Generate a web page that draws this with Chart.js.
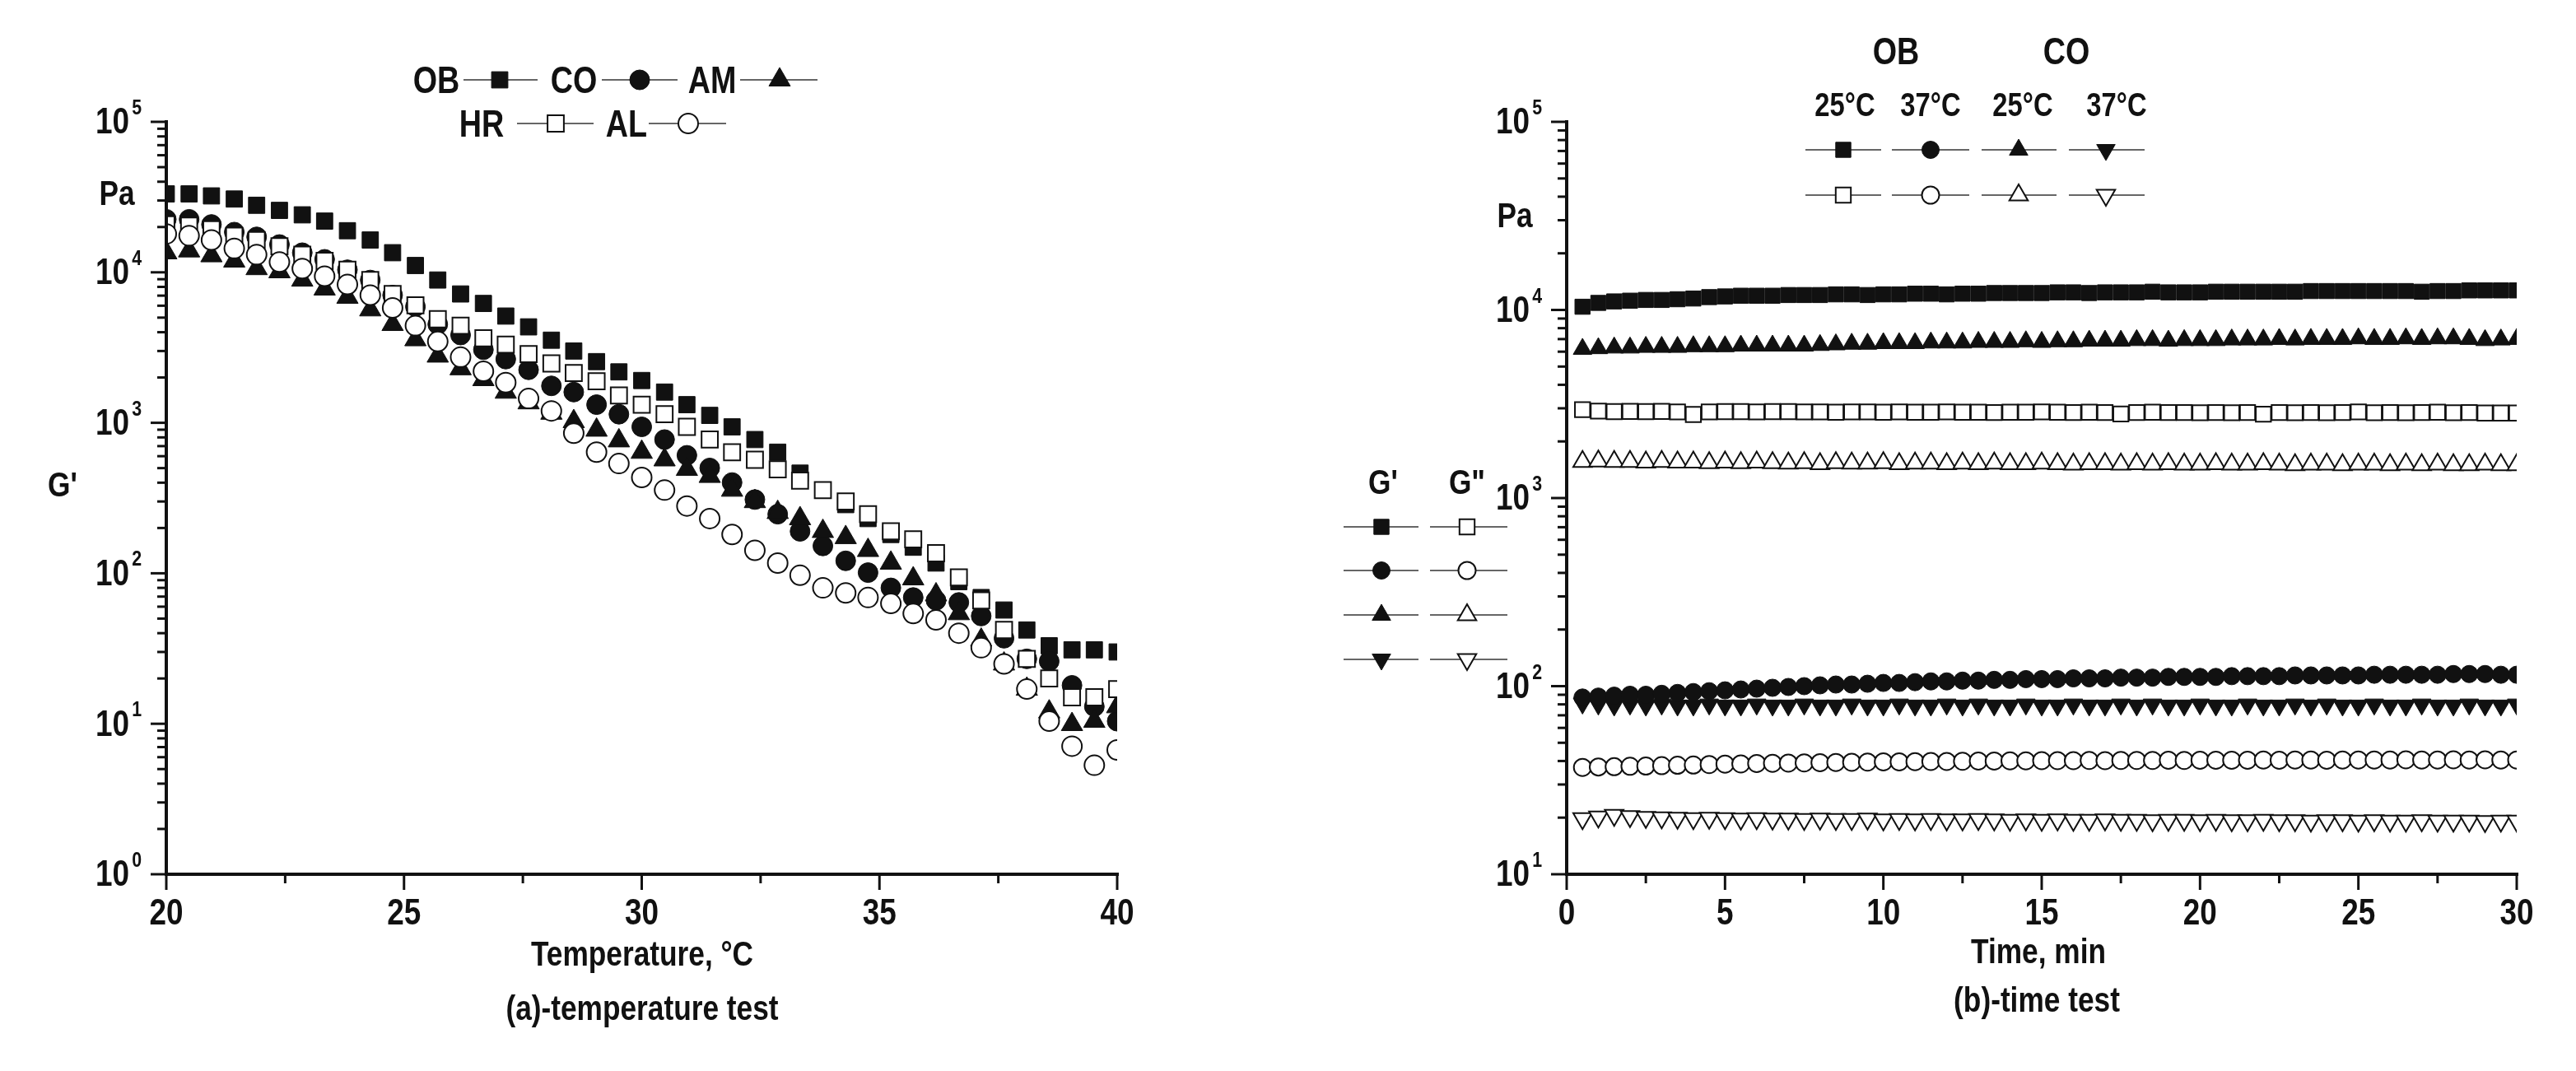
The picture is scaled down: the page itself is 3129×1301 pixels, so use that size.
<!DOCTYPE html>
<html lang="en">
<head>
<meta charset="UTF-8">
<title>G' temperature test and time test</title>
<script src="https://cdn.jsdelivr.net/npm/chart.js"></script>
<style>
  html, body { margin:0; padding:0; background:#fff; }
  body {
    width:3129px; height:1301px; position:relative; overflow:hidden;
    font-family:"Liberation Sans",Arial,sans-serif;
    font-weight:bold; color:#111;
  }
  canvas { position:absolute; top:0; }
  #chartA { left:0; }
  #chartB { left:1560px; }
  /* the figure uses a condensed bold face: squeeze Liberation Sans */
  .lbl { position:absolute; white-space:nowrap; transform:translate(-50%,-50%) scaleX(0.82); line-height:1; font-size:43px; }
  .leg { font-size:46px; }
  .tmp { font-size:40px; }
</style>
</head>
<body>

<canvas id="chartA" width="1560" height="1301"></canvas>
<canvas id="chartB" width="1569" height="1301"></canvas>

<!-- panel (a) texts -->
<div class="lbl leg" style="left:530px;top:97px">OB</div>
<div class="lbl leg" style="left:697px;top:97px">CO</div>
<div class="lbl leg" style="left:865px;top:97px">AM</div>
<div class="lbl leg" style="left:585px;top:150px">HR</div>
<div class="lbl leg" style="left:761px;top:150px">AL</div>
<div class="lbl" style="left:142px;top:234px">Pa</div>
<div class="lbl" style="left:76px;top:588px">G'</div>
<div class="lbl" style="left:780px;top:1158px">Temperature, °C</div>
<div class="lbl" style="left:780px;top:1224px">(a)-temperature test</div>

<!-- panel (b) texts -->
<div class="lbl leg" style="left:2303px;top:62px">OB</div>
<div class="lbl leg" style="left:2510px;top:62px">CO</div>
<div class="lbl tmp" style="left:2241px;top:127px">25°C</div>
<div class="lbl tmp" style="left:2345px;top:127px">37°C</div>
<div class="lbl tmp" style="left:2457px;top:127px">25°C</div>
<div class="lbl tmp" style="left:2571px;top:127px">37°C</div>
<div class="lbl" style="left:1840px;top:261px">Pa</div>
<div class="lbl" style="left:1680px;top:585px">G'</div>
<div class="lbl" style="left:1782px;top:585px">G"</div>
<div class="lbl" style="left:2476px;top:1155px">Time, min</div>
<div class="lbl" style="left:2474px;top:1214px">(b)-time test</div>

<script>
  // ---- (a) temperature sweep ----
  const tempC = [20.00, 20.48, 20.95, 21.43, 21.90, 22.38, 22.86, 23.33, 23.81, 24.29,
                 24.76, 25.24, 25.71, 26.19, 26.67, 27.14, 27.62, 28.10, 28.57, 29.05,
                 29.52, 30.00, 30.48, 30.95, 31.43, 31.90, 32.38, 32.86, 33.33, 33.81,
                 34.29, 34.76, 35.24, 35.71, 36.19, 36.67, 37.14, 37.62, 38.10, 38.57,
                 39.05, 39.52, 40.00];
  const gOB = [33200, 33200, 32200, 30700, 27900, 25800, 24100, 21900, 18900, 16400,
               13500, 11100, 8890, 7180, 6210, 5120, 4340, 3540, 3000, 2550,
               2180, 1910, 1600, 1320, 1120, 940, 774, 638, 463, 357,
               286, 231, 181, 149, 117, 88, 69, 57, 42, 33,
               31, 31, 30];
  const gCO = [22500, 22500, 20800, 18500, 17200, 15300, 13500, 12200, 10400, 8890,
               7050, 5910, 4510, 3830, 3060, 2650, 2250, 1760, 1600, 1320,
               1140, 940, 774, 608, 501, 401, 309, 247, 190, 152,
               121, 101, 80, 69, 66, 64, 52, 37, 27, 26,
               18, 13, 10.4];
  const gAM = [13500, 13900, 12900, 11900, 10600, 10100, 8890, 7760, 6840, 5640,
               4510, 3570, 2780, 2290, 1940, 1600, 1360, 1160, 1020, 895,
               760, 638, 568, 491, 441, 357, 300, 254, 231, 190,
               173, 142, 117, 92, 72, 54, 36, 25, 17, 12,
               9.9, 10.4, 13];
  const gHR = [20800, 20400, 19300, 17500, 16400, 14900, 13100, 11900, 10400, 8890,
               7180, 6030, 4880, 4420, 3650, 3310, 2860, 2480, 2140, 1890,
               1520, 1320, 1140, 940, 774, 638, 568, 491, 413, 357,
               300, 247, 190, 168, 136, 94, 66, 42, 27, 20,
               15, 15, 17];
  const gAL = [18000, 17500, 16400, 14400, 13100, 11700, 10600, 9420, 8300, 7050,
               5800, 4420, 3470, 2730, 2200, 1850, 1450, 1200, 853, 638,
               536, 433, 357, 280, 231, 181, 142, 117, 97, 80,
               74, 69, 63, 54, 49, 40, 32, 25, 17, 10.4,
               7.1, 5.3, 6.7];
  const xTicksA = [20, 25, 30, 35, 40];
  const yExpA = [0, 1, 2, 3, 4, 5];

  // ---- (b) time sweep ----
  const timeMin = [0.5, 1.0, 1.5, 2.0, 2.5, 3.0, 3.5, 4.0, 4.5, 5.0,
                   5.5, 6.0, 6.5, 7.0, 7.5, 8.0, 8.5, 9.0, 9.5, 10.0,
                   10.5, 11.0, 11.5, 12.0, 12.5, 13.0, 13.5, 14.0, 14.5, 15.0,
                   15.5, 16.0, 16.5, 17.0, 17.5, 18.0, 18.5, 19.0, 19.5, 20.0,
                   20.5, 21.0, 21.5, 22.0, 22.5, 23.0, 23.5, 24.0, 24.5, 25.0,
                   25.5, 26.0, 26.5, 27.0, 27.5, 28.0, 28.5, 29.0, 29.5, 30.0];
  const ob25G1 = [10400, 10900, 11100, 11200, 11300, 11300, 11400, 11500, 11700, 11800,
                  11900, 11900, 11900, 12000, 12000, 12000, 12100, 12100, 12000, 12100,
                  12100, 12200, 12200, 12100, 12200, 12200, 12300, 12300, 12300, 12300,
                  12400, 12400, 12300, 12400, 12400, 12400, 12500, 12400, 12400, 12400,
                  12500, 12500, 12500, 12500, 12500, 12500, 12600, 12600, 12600, 12600,
                  12600, 12600, 12600, 12500, 12600, 12600, 12700, 12700, 12700, 12700];
  const ob25G2 = [2950, 2900, 2880, 2890, 2880, 2890, 2870, 2780, 2870, 2880,
                  2880, 2870, 2880, 2880, 2870, 2870, 2860, 2870, 2870, 2860,
                  2870, 2860, 2860, 2870, 2860, 2860, 2850, 2860, 2860, 2870,
                  2860, 2850, 2860, 2850, 2800, 2850, 2860, 2850, 2850, 2840,
                  2850, 2840, 2850, 2790, 2850, 2840, 2850, 2840, 2850, 2870,
                  2840, 2850, 2840, 2850, 2860, 2840, 2850, 2830, 2830, 2830];
  const ob37G1 = [87, 88, 89, 90, 90, 91, 92, 93, 94, 95,
                  96, 97, 98, 99, 100, 101, 102, 102, 103, 104,
                  104, 105, 106, 106, 107, 107, 108, 108, 109, 109,
                  109, 110, 110, 110, 111, 111, 111, 112, 112, 112,
                  112, 113, 113, 113, 113, 114, 114, 114, 114, 114,
                  115, 115, 115, 115, 115, 116, 116, 116, 115, 115];
  const ob37G2 = [37.0, 37.2, 37.3, 37.5, 37.6, 37.8, 38.0, 38.1, 38.3, 38.5,
                  38.6, 38.8, 38.9, 39.0, 39.1, 39.2, 39.3, 39.4, 39.5, 39.6,
                  39.6, 39.7, 39.8, 39.8, 39.9, 40.0, 40.0, 40.1, 40.1, 40.2,
                  40.2, 40.2, 40.3, 40.2, 40.3, 40.3, 40.3, 40.4, 40.3, 40.4,
                  40.4, 40.4, 40.4, 40.5, 40.4, 40.5, 40.5, 40.4, 40.5, 40.5,
                  40.5, 40.5, 40.6, 40.5, 40.5, 40.6, 40.5, 40.6, 40.5, 40.5];
  const co25G1 = [6200, 6250, 6300, 6300, 6350, 6350, 6350, 6400, 6400, 6400,
                  6450, 6450, 6450, 6450, 6450, 6500, 6550, 6600, 6600, 6650,
                  6650, 6650, 6700, 6700, 6700, 6750, 6750, 6750, 6800, 6750,
                  6800, 6800, 6850, 6850, 6850, 6900, 6900, 6850, 6900, 6900,
                  6900, 6950, 6950, 6950, 7000, 6950, 7000, 7000, 7000, 7050,
                  7000, 7000, 7050, 7000, 7050, 7050, 7000, 6900, 6950, 7000];
  const co25G2 = [1560, 1570, 1560, 1560, 1550, 1560, 1550, 1550, 1540, 1550,
                  1540, 1550, 1540, 1530, 1540, 1520, 1540, 1530, 1530, 1540,
                  1520, 1530, 1530, 1520, 1530, 1520, 1530, 1520, 1520, 1530,
                  1520, 1510, 1520, 1520, 1510, 1520, 1510, 1520, 1510, 1510,
                  1520, 1510, 1510, 1520, 1510, 1500, 1510, 1510, 1500, 1510,
                  1510, 1500, 1510, 1500, 1510, 1500, 1500, 1510, 1500, 1500];
  const co37G1 = [81, 80, 79, 80, 79, 80, 79, 79, 80, 79,
                  79, 80, 79, 79, 80, 79, 79, 80, 79, 79,
                  80, 79, 79, 80, 79, 80, 79, 79, 80, 79,
                  79, 80, 79, 79, 80, 79, 80, 79, 79, 80,
                  79, 79, 80, 79, 79, 80, 79, 80, 79, 79,
                  80, 79, 79, 80, 79, 79, 80, 79, 79, 80];
  const co37G2 = [19.8, 20.2, 20.6, 20.3, 20.1, 20.0, 19.9, 19.8, 19.9, 19.8,
                  19.7, 19.8, 19.7, 19.7, 19.6, 19.7, 19.6, 19.6, 19.7, 19.5,
                  19.6, 19.5, 19.6, 19.5, 19.5, 19.6, 19.5, 19.4, 19.5, 19.4,
                  19.5, 19.4, 19.4, 19.5, 19.4, 19.4, 19.3, 19.4, 19.4, 19.3,
                  19.4, 19.3, 19.3, 19.4, 19.3, 19.3, 19.2, 19.3, 19.3, 19.2,
                  19.3, 19.2, 19.2, 19.3, 19.2, 19.2, 19.2, 19.1, 19.2, 19.2];
  const xTicksB = [0, 5, 10, 15, 20, 25, 30];
  const yExpB = [1, 2, 3, 4, 5];

  const INK = '#111';
  const FONT = '"Liberation Sans",Arial,sans-serif';
  const SQUEEZE = 0.82;

  function markerPath(ctx, style, x, y, r, rot) {
    ctx.save();
    ctx.translate(x, y);
    ctx.rotate((rot || 0) * Math.PI / 180);
    ctx.beginPath();
    if (style === 'rect') {
      const s = r * Math.SQRT1_2;
      ctx.rect(-s, -s, 2 * s, 2 * s);
    } else if (style === 'circle') {
      ctx.arc(0, 0, r, 0, Math.PI * 2);
    } else {
      ctx.moveTo(0, -r);
      ctx.lineTo(r * 0.866, r * 0.5);
      ctx.lineTo(-r * 0.866, r * 0.5);
      ctx.closePath();
    }
    ctx.restore();
  }

  // condensed text: squeeze horizontally around the anchor
  function squeezedText(ctx, txt, x, y, align) {
    ctx.save();
    ctx.translate(x, y);
    ctx.scale(SQUEEZE, 1);
    ctx.textAlign = align;
    ctx.fillText(txt, 0, 0);
    ctx.restore();
  }

  function ds(label, xs, ys, style, filled, r, rot, order) {
    return {
      label, order,
      data: xs.map((v, i) => ({ x: v, y: ys[i] })),
      showLine: false,
      pointStyle: style,
      pointRadius: r,
      pointHoverRadius: r,
      pointRotation: rot || 0,
      pointBackgroundColor: filled ? INK : '#fff',
      pointBorderColor: INK,
      pointBorderWidth: filled ? 1 : 2
    };
  }

  // axes drawn from the chart's own scales (open frame, outward ticks, 10^n labels)
  const axesPlugin = {
    id: 'logAxes',
    afterDraw(chart, args, o) {
      const { ctx, chartArea: a } = chart;
      const xs = chart.scales.x, ys = chart.scales.y;
      ctx.save();
      ctx.strokeStyle = INK; ctx.fillStyle = INK; ctx.lineCap = 'butt';
      ctx.lineWidth = 4;
      ctx.beginPath();
      ctx.moveTo(a.left, a.top - 2); ctx.lineTo(a.left, a.bottom); ctx.lineTo(a.right + 2, a.bottom);
      ctx.stroke();

      ctx.lineWidth = 3;
      // y: decades + 2..9 minors
      o.yExp.forEach((e, i) => {
        const py = ys.getPixelForValue(Math.pow(10, e));
        ctx.beginPath(); ctx.moveTo(a.left, py); ctx.lineTo(a.left - 19, py); ctx.stroke();
        if (i < o.yExp.length - 1) {
          for (let m = 2; m <= 9; m++) {
            const my = ys.getPixelForValue(m * Math.pow(10, e));
            ctx.beginPath(); ctx.moveTo(a.left, my); ctx.lineTo(a.left - 11, my); ctx.stroke();
          }
        }
        const right = a.left - 30;
        ctx.font = 'bold 26px ' + FONT;
        const sw = ctx.measureText(String(e)).width * SQUEEZE;
        ctx.textBaseline = 'alphabetic';
        squeezedText(ctx, String(e), right, py - 9, 'right');
        ctx.font = 'bold 45px ' + FONT;
        ctx.textBaseline = 'middle';
        squeezedText(ctx, '10', right - sw - 3, py + 2, 'right');
      });
      // x: majors + half-way minors
      ctx.font = 'bold 45px ' + FONT;
      ctx.textBaseline = 'middle';
      o.xTicks.forEach((t, i) => {
        const px = xs.getPixelForValue(t);
        ctx.beginPath(); ctx.moveTo(px, a.bottom); ctx.lineTo(px, a.bottom + 19); ctx.stroke();
        squeezedText(ctx, String(t), px, a.bottom + 49, 'center');
        if (i < o.xTicks.length - 1) {
          const mx = xs.getPixelForValue((t + o.xTicks[i + 1]) / 2);
          ctx.beginPath(); ctx.moveTo(mx, a.bottom); ctx.lineTo(mx, a.bottom + 11); ctx.stroke();
        }
      });
      // marker legends
      (o.legend || []).forEach(it => {
        ctx.strokeStyle = '#666'; ctx.lineWidth = 2;
        ctx.beginPath(); ctx.moveTo(it.x1, it.y); ctx.lineTo(it.x2, it.y); ctx.stroke();
        markerPath(ctx, it.style, it.mx, it.y, it.r, it.rot);
        ctx.fillStyle = it.filled ? INK : '#fff';
        ctx.fill();
        ctx.strokeStyle = INK; ctx.lineWidth = it.filled ? 1 : 2;
        ctx.stroke();
      });
      ctx.restore();
    }
  };

  function baseOptions(xmin, xmax, ymin, ymax, pad, plug) {
    return {
      responsive: false,
      animation: false,
      events: [],
      layout: { padding: pad },
      plugins: { legend: { display: false }, tooltip: { enabled: false }, logAxes: plug },
      scales: {
        x: { type: 'linear', min: xmin, max: xmax, display: false },
        y: { type: 'logarithmic', min: ymin, max: ymax, display: false }
      }
    };
  }

  // (a)
  const legA = [
    { x1: 563, x2: 653, mx: 607, y: 97, style: 'rect', filled: true, r: 14 },
    { x1: 731, x2: 823, mx: 777, y: 97, style: 'circle', filled: true, r: 12 },
    { x1: 899, x2: 993, mx: 947, y: 97, style: 'triangle', filled: true, r: 15 },
    { x1: 628, x2: 721, mx: 675, y: 150, style: 'rect', filled: false, r: 14 },
    { x1: 788, x2: 882, mx: 836, y: 150, style: 'circle', filled: false, r: 12 }
  ];
  new Chart(document.getElementById('chartA'), {
    type: 'scatter',
    data: {
      datasets: [
        ds('OB', tempC, gOB, 'rect', true, 14, 0, 5),
        ds('CO', tempC, gCO, 'circle', true, 12, 0, 4),
        ds('AM', tempC, gAM, 'triangle', true, 15, 0, 3),
        ds('HR', tempC, gHR, 'rect', false, 14, 0, 2),
        ds('AL', tempC, gAL, 'circle', false, 12, 0, 1)
      ]
    },
    options: baseOptions(20, 40, 1, 1e5,
      { left: 202, right: 1560 - 1357, top: 148, bottom: 1301 - 1062 },
      { xTicks: xTicksA, yExp: yExpA, legend: legA }),
    plugins: [axesPlugin]
  });

  // (b)
  const off = 1560;
  const colsB = [[2193, 2285, 2239], [2298, 2392, 2345], [2407, 2498, 2452], [2513, 2605, 2558]];
  const mk = [['rect', 13, 0], ['circle', 10.5, 0], ['triangle', 13, 0], ['triangle', 13, 180]];
  const legB = [];
  colsB.forEach((c, i) => {
    legB.push({ x1: c[0] - off, x2: c[1] - off, mx: c[2] - off, y: 182, style: mk[i][0], r: mk[i][1], rot: mk[i][2], filled: true });
    legB.push({ x1: c[0] - off, x2: c[1] - off, mx: c[2] - off, y: 237, style: mk[i][0], r: mk[i][1], rot: mk[i][2], filled: false });
  });
  [640, 693, 747, 801].forEach((yy, i) => {
    legB.push({ x1: 1632 - off, x2: 1723 - off, mx: 1678 - off, y: yy, style: mk[i][0], r: mk[i][1], rot: mk[i][2], filled: true });
    legB.push({ x1: 1737 - off, x2: 1831 - off, mx: 1782 - off, y: yy, style: mk[i][0], r: mk[i][1], rot: mk[i][2], filled: false });
  });
  new Chart(document.getElementById('chartB'), {
    type: 'scatter',
    data: {
      datasets: [
        ds('OB 25°C G\'', timeMin, ob25G1, 'rect', true, 13, 0, 1),
        ds('OB 25°C G"', timeMin, ob25G2, 'rect', false, 13, 0, 1),
        ds('OB 37°C G\'', timeMin, ob37G1, 'circle', true, 10.5, 0, 1),
        ds('OB 37°C G"', timeMin, ob37G2, 'circle', false, 10.5, 0, 1),
        ds('CO 25°C G\'', timeMin, co25G1, 'triangle', true, 13, 0, 1),
        ds('CO 25°C G"', timeMin, co25G2, 'triangle', false, 13, 0, 1),
        ds('CO 37°C G\'', timeMin, co37G1, 'triangle', true, 13, 180, 1),
        ds('CO 37°C G"', timeMin, co37G2, 'triangle', false, 13, 180, 1)
      ]
    },
    options: baseOptions(0, 30, 10, 1e5,
      { left: 1903 - off, right: 1569 - (3057 - off), top: 148, bottom: 1301 - 1062 },
      { xTicks: xTicksB, yExp: yExpB, legend: legB }),
    plugins: [axesPlugin]
  });
</script>
</body>
</html>
